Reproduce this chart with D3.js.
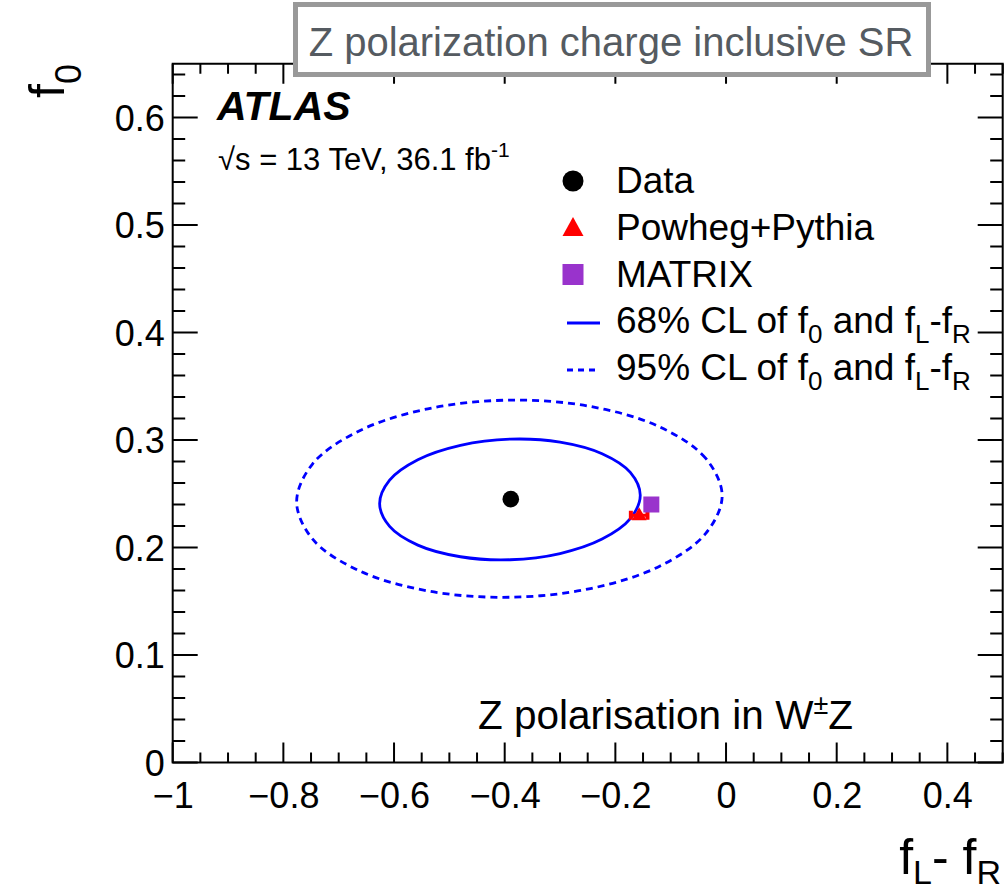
<!DOCTYPE html>
<html><head><meta charset="utf-8">
<script src="https://cdn.jsdelivr.net/npm/d3@7"></script>
<style>
body{margin:0;background:#fff}
svg{display:block}
text{font-family:"Liberation Sans",Arial,Helvetica,sans-serif;fill:#000}
</style>
</head><body>
<svg id="c" width="1006" height="895"></svg>
<script>
// ---------- data ----------
const xTickValues = [-1, -0.8, -0.6, -0.4, -0.2, 0, 0.2, 0.4];
const yTickValues = [0, 0.1, 0.2, 0.3, 0.4, 0.5, 0.6];
const dataPoint = [{x: -0.389, y: 0.245}];
const powhegPoint = [{x: -0.157, y: 0.230, xerr: 0.015}];
const matrixPoint = [{x: -0.135, y: 0.240}];
// 68% CL contour (f_L - f_R, f_0)
const cl68 = [
  [-0.155, 0.2486], [-0.173, 0.2698], [-0.224, 0.2872], [-0.300, 0.2980],
  [-0.390, 0.3008], [-0.480, 0.2950], [-0.557, 0.2816], [-0.608, 0.2626],
  [-0.626, 0.2408], [-0.608, 0.2196], [-0.557, 0.2022], [-0.480, 0.1914],
  [-0.390, 0.1886], [-0.300, 0.1944], [-0.224, 0.2078], [-0.173, 0.2268]
];
// 95% CL contour
const cl95 = [
  [-0.007, 0.2482], [-0.037, 0.2831], [-0.120, 0.3122], [-0.245, 0.3312],
  [-0.392, 0.3371], [-0.539, 0.3290], [-0.664, 0.3082], [-0.747, 0.2779],
  [-0.776, 0.2426], [-0.747, 0.2077], [-0.664, 0.1786], [-0.539, 0.1596],
  [-0.392, 0.1537], [-0.245, 0.1618], [-0.120, 0.1826], [-0.037, 0.2129]
];
const legendEntries = ["Data", "Powheg+Pythia", "MATRIX", "68% CL", "95% CL"];
const titleText = "Z polarization charge inclusive SR";

// ---------- layout ----------
const svg = d3.select("#c");
const L = 172.7, R = 1002.7, T = 63.75, B = 762.5;
const x = d3.scaleLinear().domain([-1, 0.5]).range([L, R]);
const y = d3.scaleLinear().domain([0, 0.65]).range([B, T]);
const blue = "#0000ff", red = "#ff0000", purple = "#9933cc";

// contours
const line = d3.line().x(d => x(d[0])).y(d => y(d[1])).curve(d3.curveCatmullRomClosed.alpha(0.5));
svg.append("path").attr("d", line(cl95)).attr("fill", "none").attr("stroke", blue)
  .attr("stroke-width", 2.8).attr("stroke-dasharray", "7,5");
svg.append("path").attr("d", line(cl68)).attr("fill", "none").attr("stroke", blue)
  .attr("stroke-width", 2.8);

// frame & ticks
const minorX = d3.range(-1, 0.5001, 0.05).map(v => +v.toFixed(2));
const minorY = d3.range(0, 0.6501, 0.02).map(v => +v.toFixed(2));
const isMajX = v => Math.abs(v * 5 - Math.round(v * 5)) < 1e-6;
const isMajY = v => Math.abs(v * 10 - Math.round(v * 10)) < 1e-6;
const tk = svg.append("g").attr("stroke", "#000").attr("stroke-width", 2);
minorX.forEach(v => {
  const len = isMajX(v) ? 20 : 10;
  tk.append("line").attr("x1", x(v)).attr("x2", x(v)).attr("y1", B).attr("y2", B - len);
  tk.append("line").attr("x1", x(v)).attr("x2", x(v)).attr("y1", T).attr("y2", T + len);
});
minorY.forEach(v => {
  const len = isMajY(v) ? 25 : 12.5;
  tk.append("line").attr("y1", y(v)).attr("y2", y(v)).attr("x1", L).attr("x2", L + len);
  tk.append("line").attr("y1", y(v)).attr("y2", y(v)).attr("x1", R).attr("x2", R - len);
});
svg.append("rect").attr("x", L).attr("y", T).attr("width", R - L).attr("height", B - T)
  .attr("fill", "none").attr("stroke", "#000").attr("stroke-width", 2);

// tick labels via axes (lines hidden)
const fmt = d3.format("");
const xAx = svg.append("g").attr("transform", `translate(0,${B})`)
  .call(d3.axisBottom(x).tickValues(xTickValues).tickSize(0).tickPadding(0).tickFormat(v => v === 0 ? "0" : fmt(v)));
xAx.select(".domain").remove();
xAx.selectAll("text").attr("font-size", 36).attr("dy", null).attr("y", 45).attr("font-family", null);
const yAx = svg.append("g").attr("transform", `translate(${L},0)`)
  .call(d3.axisLeft(y).tickValues(yTickValues).tickSize(0).tickPadding(0).tickFormat(v => v === 0 ? "0" : fmt(v)));
yAx.select(".domain").remove();
yAx.selectAll("text").attr("font-size", 36).attr("x", -8).attr("dy", "0.35em").attr("font-family", null);

// markers
svg.selectAll("circle.data").data(dataPoint).join("circle").attr("class", "data")
  .attr("cx", d => x(d.x)).attr("cy", d => y(d.y)).attr("r", 8.3).attr("fill", "#000");
const pw = svg.append("g");
powhegPoint.forEach(d => {
  const cx = x(d.x), cy = y(d.y), x0 = x(d.x - d.xerr), x1 = x(d.x + d.xerr);
  pw.append("line").attr("x1", x0).attr("x2", x1).attr("y1", cy).attr("y2", cy).attr("stroke", red).attr("stroke-width", 3);
  pw.append("rect").attr("x", x0 - 2).attr("y", cy - 4.5).attr("width", 4).attr("height", 9).attr("fill", red);
  pw.append("rect").attr("x", x1 - 2).attr("y", cy - 4.5).attr("width", 4).attr("height", 9).attr("fill", red);
  pw.append("path").attr("d", `M${cx},${cy - 8}L${cx + 7.5},${cy + 5}L${cx - 7.5},${cy + 5}Z`).attr("fill", red);
});
svg.selectAll("rect.mx").data(matrixPoint).join("rect").attr("class", "mx")
  .attr("x", d => x(d.x) - 8).attr("y", d => y(d.y) - 8).attr("width", 16).attr("height", 16).attr("fill", purple);

// legend
const lx = 573, ltx = 616, rows = [181, 228, 274.5, 321, 368];
const lg = svg.append("g");
lg.append("circle").attr("cx", lx).attr("cy", rows[0]).attr("r", 10.5).attr("fill", "#000");
lg.append("path").attr("d", `M${lx},${rows[1] - 11}L${lx + 10.5},${rows[1] + 8}L${lx - 10.5},${rows[1] + 8}Z`).attr("fill", red);
lg.append("rect").attr("x", lx - 10.5).attr("y", rows[2] - 10.5).attr("width", 21).attr("height", 21).attr("fill", purple);
lg.append("line").attr("x1", 567).attr("x2", 600).attr("y1", rows[3] + 2).attr("y2", rows[3] + 2).attr("stroke", blue).attr("stroke-width", 2.8);
lg.append("line").attr("x1", 567).attr("x2", 600).attr("y1", rows[4] + 2).attr("y2", rows[4] + 2).attr("stroke", blue).attr("stroke-width", 2.8).attr("stroke-dasharray", "6,5");
const fs = 37, sfs = 26;
legendEntries.slice(0, 3).forEach((t, i) => {
  lg.append("text").attr("x", ltx).attr("y", rows[i] + 12).attr("font-size", fs).text(t);
});
[3, 4].forEach(i => {
  const tx = lg.append("text").attr("x", ltx).attr("y", rows[i] + 12).attr("font-size", fs);
  tx.append("tspan").text(legendEntries[i] + " of f");
  tx.append("tspan").attr("font-size", sfs).attr("dy", 10).text("0");
  tx.append("tspan").attr("dy", -10).text(" and f");
  tx.append("tspan").attr("font-size", sfs).attr("dy", 10).text("L");
  tx.append("tspan").attr("dy", -10).text("-f");
  tx.append("tspan").attr("font-size", sfs).attr("dy", 10).text("R");
});

// ATLAS labels
svg.append("text").attr("x", 217).attr("y", 120).attr("font-size", 41)
  .attr("font-weight", "bold").attr("font-style", "italic").text("ATLAS");
const en = svg.append("text").attr("x", 218).attr("y", 170).attr("font-size", 31);
en.append("tspan").text("\u221As = 13 TeV, 36.1 fb");
en.append("tspan").attr("font-size", 21).attr("dy", -13).text("-1");

// inner label
const zl = svg.append("text").attr("x", 478).attr("y", 729).attr("font-size", 40.5);
zl.append("tspan").text("Z polarisation in W");
zl.append("tspan").attr("font-size", 27).attr("dy", -15).text("\u00B1");
zl.append("tspan").attr("dy", 15).text("Z");

// axis titles
const xt = svg.append("text").attr("x", 1001).attr("y", 874).attr("font-size", 50).attr("text-anchor", "end");
xt.append("tspan").text("f");
xt.append("tspan").attr("font-size", 34).attr("dy", 10).text("L");
xt.append("tspan").attr("dy", -10).text("- f");
xt.append("tspan").attr("font-size", 34).attr("dy", 10).text("R");
const yt = svg.append("text").attr("transform", "translate(64,64) rotate(-90)").attr("font-size", 50).attr("text-anchor", "end");
yt.append("tspan").text("f");
yt.append("tspan").attr("font-size", 36).attr("dy", 17).text("0");

// title box
svg.append("rect").attr("x", 295.5).attr("y", 4.5).attr("width", 633).attr("height", 70)
  .attr("fill", "#fff").attr("stroke", "#999999").attr("stroke-width", 5);
svg.append("text").attr("x", 611).attr("y", 56).attr("font-size", 40).attr("text-anchor", "middle")
  .style("fill", "#555b61").text(titleText);
</script>
</body></html>
